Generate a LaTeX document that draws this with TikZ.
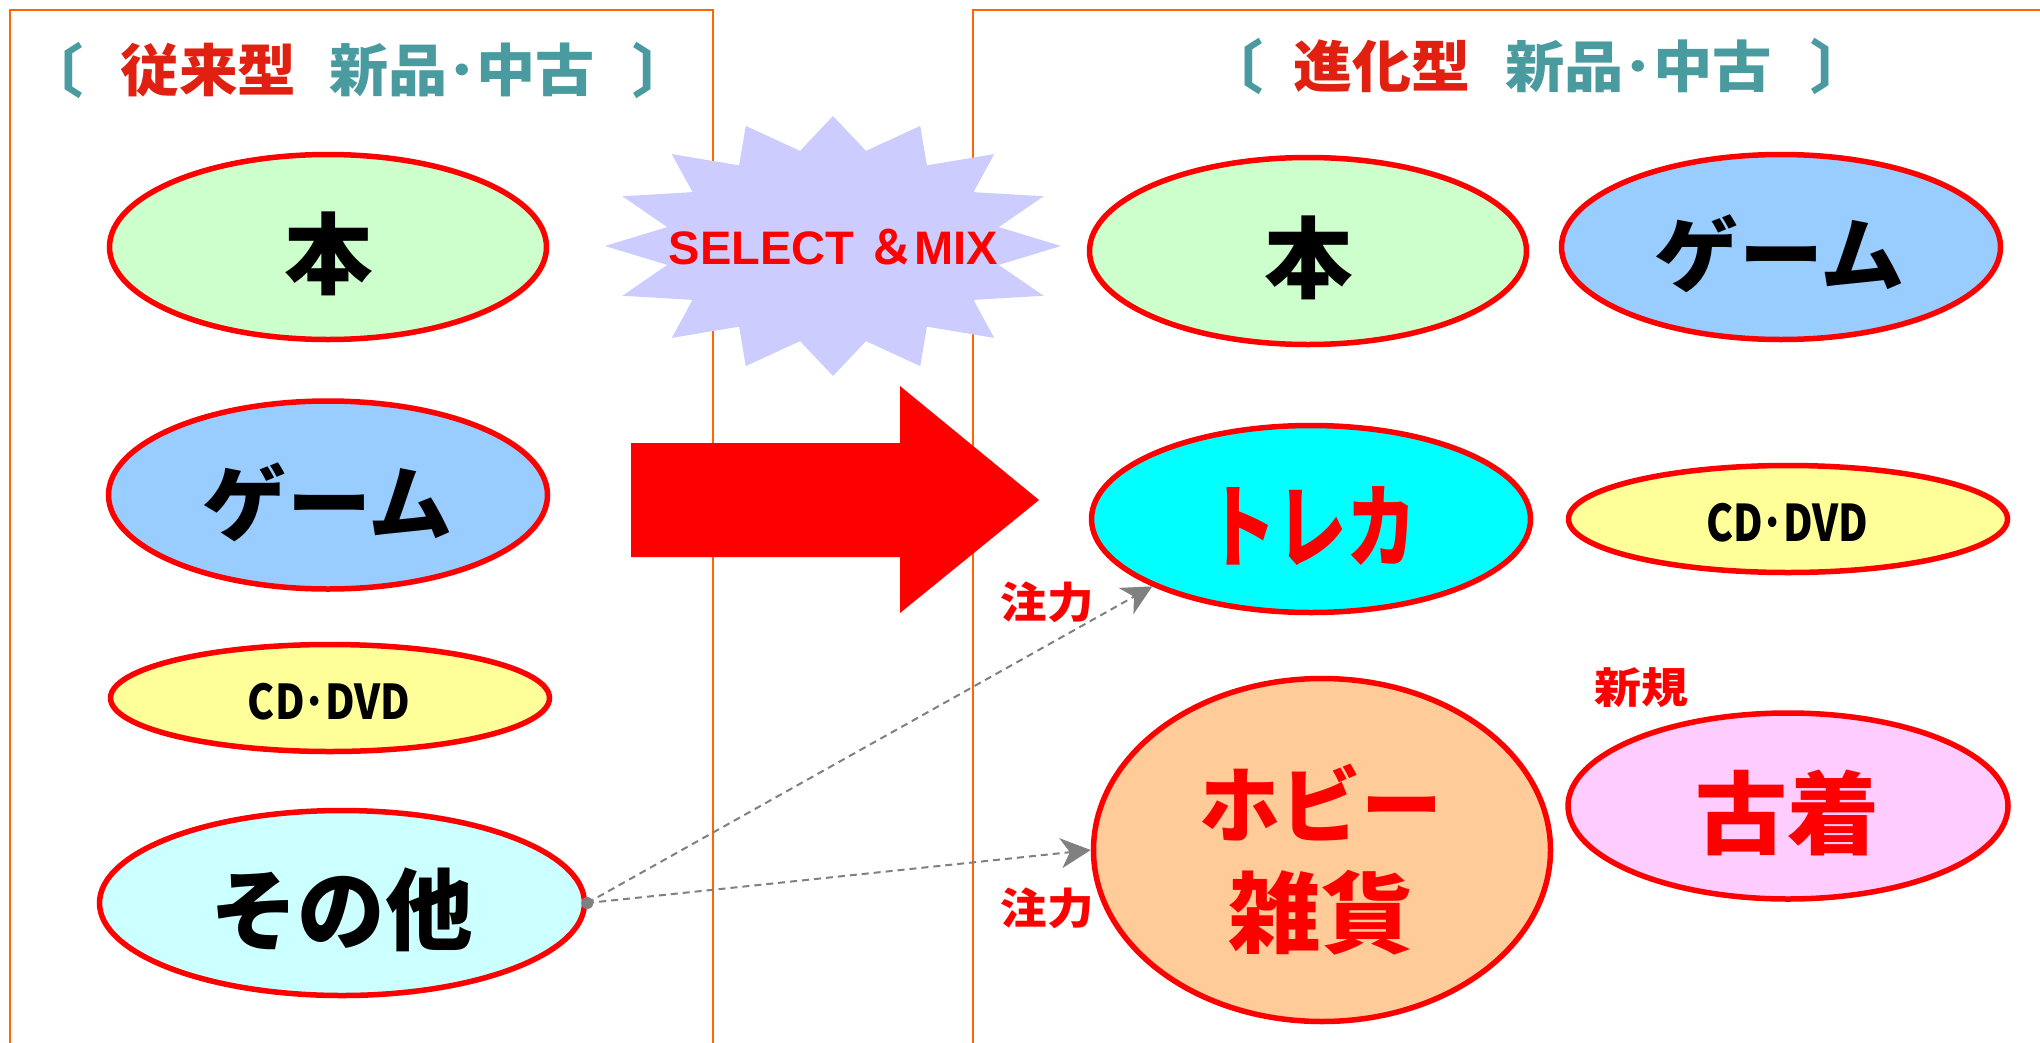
\documentclass[tikz,border=0pt]{standalone}
\usepackage{fontspec}
\usepackage{graphicx}
\usetikzlibrary{shapes.geometric,arrows.meta,calc}
\newfontfamily\jp{Noto Sans CJK JP Black}
\newfontfamily\lib{Liberation Sans}
\definecolor{frameorange}{HTML}{FF6600}
\definecolor{hdrred}{HTML}{E02010}
\definecolor{hdrteal}{HTML}{4A9BA0}
\definecolor{fhon}{HTML}{CCFFCC}
\definecolor{fgame}{HTML}{99CCFF}
\definecolor{fcd}{HTML}{FFFF99}
\definecolor{fsonota}{HTML}{CCFFFF}
\definecolor{ftoreka}{HTML}{00FFFF}
\definecolor{fhobby}{HTML}{FFCC99}
\definecolor{ffuru}{HTML}{FFCCFF}
\definecolor{fstar}{HTML}{CCCCFF}
\definecolor{dashgray}{HTML}{808080}
\newcommand\fitwh[3]{\resizebox*{#1pt}{#2pt}{\jp #3}}
\newcommand\fith[2]{\resizebox*{!}{#1pt}{\jp #2}}
\begin{document}
\begin{tikzpicture}[x=1pt,y=-1pt,
  ell/.style={ellipse, draw=red, line width=5.5pt, inner sep=0pt},
  lbl/.style={inner sep=0pt},
  frame/.style={draw=frameorange, line width=2pt},
  dasharrow/.style={draw=dashgray, line width=2pt, dash pattern=on 7pt off 5pt,
    -{Stealth[length=30pt,width=30pt,inset=9pt]}},
  brk/.style={inner sep=0pt, text=hdrteal, font=\jp\fontsize{58}{58}\selectfont}]
\useasboundingbox (0,0) rectangle (2040,1042);
% frames
\draw[frame] (10,1060) -- (10,10) -- (713,10) -- (713,1060);
\draw[frame] (973,1060) -- (973,10) -- (2060,10);
% headers
\node[brk] (hLa) at (54,70) {〔};
\node[lbl, text=hdrred] (hLb) at (208.5,70) {\fitwh{176}{54}{従来型}};
\node[lbl, text=hdrteal] (hLc) at (462,70) {\fitwh{266}{54}{新品･中古}};
\node[brk] (hLd) at (661.5,70) {〕};
\node[brk] (hRa) at (1234,66.5) {〔};
\node[lbl, text=hdrred] (hRb) at (1381.5,66.5) {\fitwh{177}{53}{進化型}};
\node[lbl, text=hdrteal] (hRc) at (1638.5,66.5) {\fitwh{267}{53}{新品･中古}};
\node[brk] (hRd) at (1839,66.5) {〕};
% star
\fill[fstar] (833+228,246) \foreach \k in {1,...,31} {
  -- ({833+ifthenelse(isodd(\k),169,228)*cos(\k*11.25)},{246+ifthenelse(isodd(\k),97,130)*sin(\k*11.25)}) } -- cycle;
\node[lbl, text=red, font=\lib\bfseries\fontsize{47}{47}\selectfont] (sel) at (833.5,247.5) {SELECT {\jp ＆}MIX};
% big arrow
\fill[red] (631,443) -- (900,443) -- (900,386) -- (1039,500) -- (900,613) -- (900,557) -- (631,557) -- cycle;
% left ellipses
\node[ell, fill=fhon, minimum width=437, minimum height=185] (ehonL) at (328,247) {};
\node[lbl] (thonL) at (328.5,254) {\fith{84}{本}};
\node[ell, fill=fgame, minimum width=439, minimum height=188] (egameL) at (328,495) {};
\node[lbl] (tgameL) at (328,502) {\fitwh{250}{79}{ゲーム}};
\node[ell, fill=fcd, minimum width=439, minimum height=107] (ecdL) at (330,698) {};
\node[lbl] (tcdL) at (329,701.5) {\fitwh{162}{37}{CD･DVD}};
\node[ell, fill=fsonota, minimum width=485, minimum height=185] (esonota) at (342,903) {};
\node[lbl] (tsonota) at (341.5,910) {\fitwh{263}{84}{その他}};
% right ellipses
\node[ell, fill=fhon, minimum width=437, minimum height=187] (ehonR) at (1308,251) {};
\node[lbl] (thonR) at (1309,258) {\fith{84}{本}};
\node[ell, fill=fgame, minimum width=439, minimum height=185] (egameR) at (1781,247) {};
\node[lbl] (tgameR) at (1780,254) {\fitwh{250}{78}{ゲーム}};
\node[ell, fill=ftoreka, minimum width=439, minimum height=187] (etoreka) at (1311,519) {};
\node[lbl, text=red] (ttoreka) at (1311.5,526.5) {\fitwh{211}{79}{トレカ}};
\node[ell, fill=fcd, minimum width=439, minimum height=107] (ecdR) at (1788,519) {};
\node[lbl] (tcdR) at (1787,522.5) {\fitwh{162}{39}{CD･DVD}};
\node[ell, fill=fhobby, minimum width=457, minimum height=343] (ehobby) at (1322,850) {};
\node[lbl, text=red] (thobby1) at (1320.5,802.5) {\fitwh{243}{77}{ホビー}};
\node[lbl, text=red] (thobby2) at (1321,912.5) {\fitwh{185}{85}{雑貨}};
\node[ell, fill=ffuru, minimum width=440, minimum height=186] (efuru) at (1788,806) {};
\node[lbl, text=red] (tfuru) at (1787.5,813) {\fitwh{184}{86}{古着}};
% small labels
\node[lbl, text=red] (shinki) at (1641.5,688) {\fitwh{94}{40}{新規}};
\node[lbl, text=red] (chu1) at (1047,602.5) {\fitwh{93}{41}{注力}};
\node[lbl, text=red] (chu2) at (1047,908) {\fitwh{93}{41}{注力}};
% dashed connectors
\node[circle, fill=dashgray, inner sep=0pt, minimum size=12] (dot) at (esonota.east) {};
\draw[dasharrow] (dot.center) -- (etoreka.203);
\draw[dasharrow] (dot.center) -- (ehobby.west);
\end{tikzpicture}
\end{document}
